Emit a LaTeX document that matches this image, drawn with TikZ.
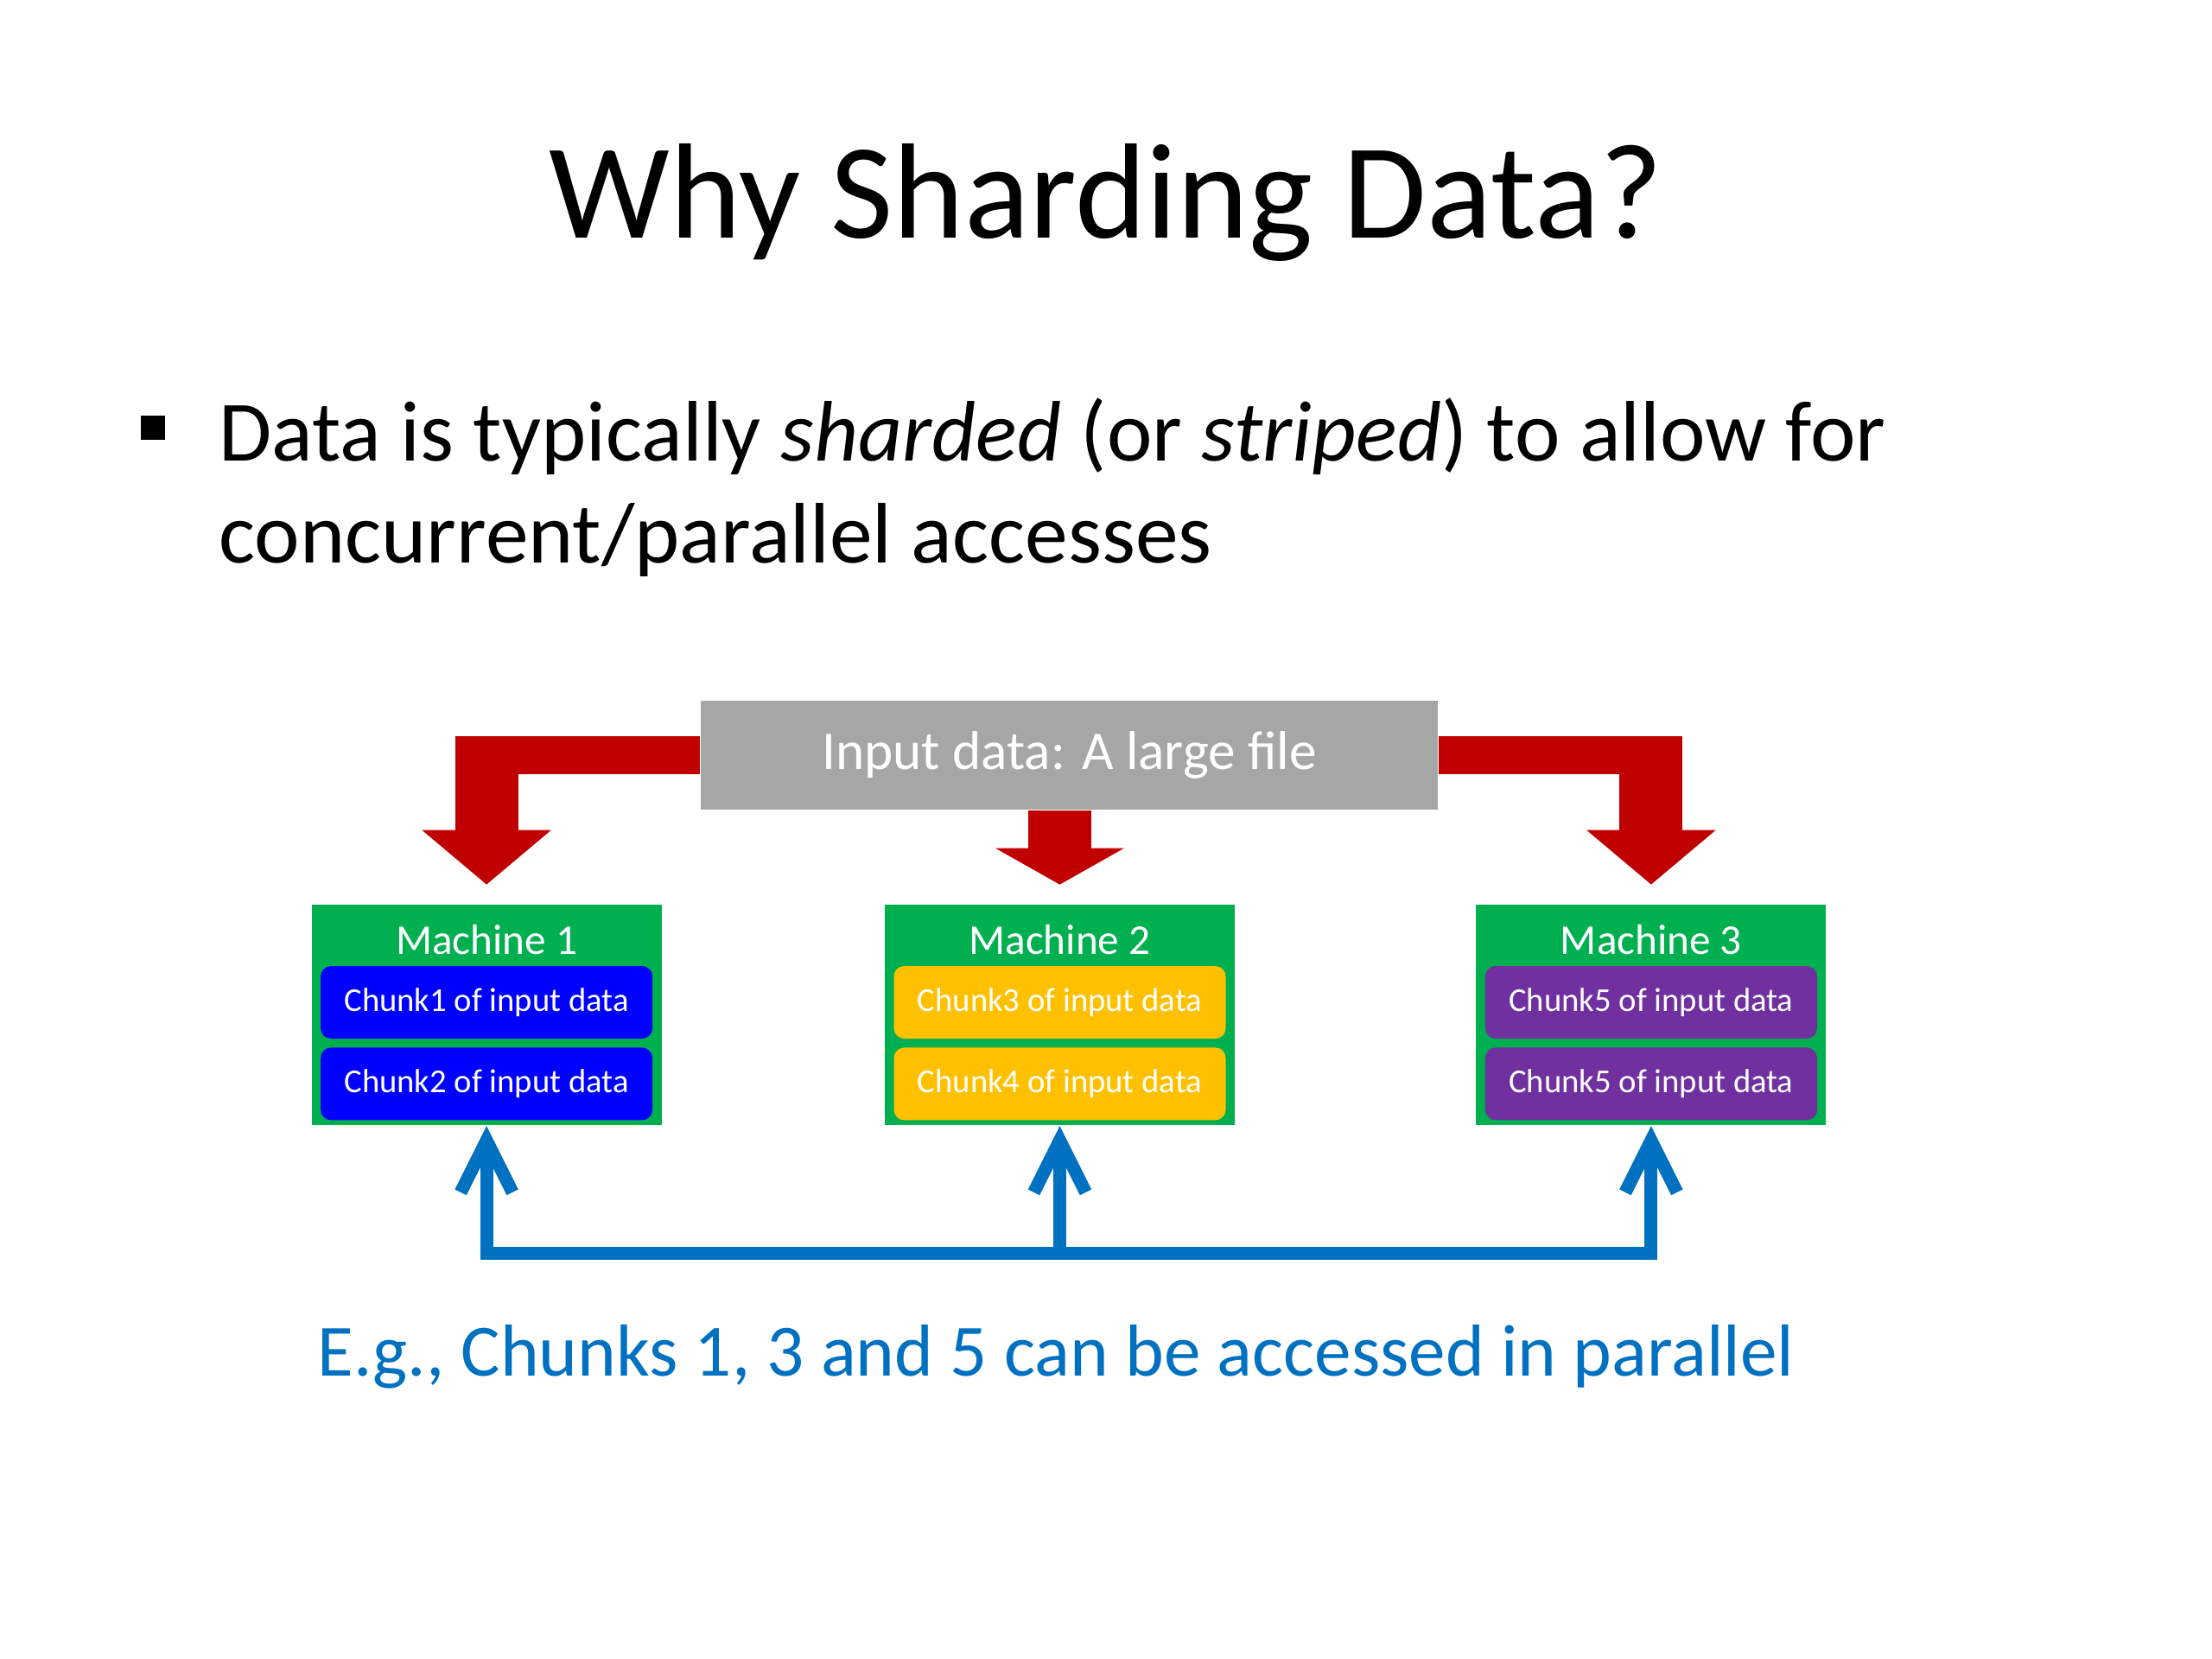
\documentclass[tikz,border=0pt]{standalone}
\usepackage{fontspec}
\setmainfont{Carlito}
\usetikzlibrary{arrows.meta, positioning, calc}

\definecolor{feedred}{HTML}{C00000}
\definecolor{filegray}{HTML}{A6A6A6}
\definecolor{machgreen}{HTML}{00B050}
\definecolor{chunkblue}{HTML}{0000FF}
\definecolor{chunkyellow}{HTML}{FFC000}
\definecolor{chunkpurple}{HTML}{7030A0}
\definecolor{accessblue}{HTML}{0070C0}

\begin{document}
\begin{tikzpicture}[
    node distance=1cm and 2.6cm,
    machine/.style={rectangle, fill=machgreen, minimum width=4.05cm, minimum height=2.55cm, inner sep=0pt},
    mtitle/.style={anchor=base, text=white, font=\fontsize{14}{16}\selectfont},
    chunk/.style={rectangle, rounded corners=0.12cm, minimum width=3.84cm, minimum height=0.84cm, inner sep=0pt, text=white, font=\fontsize{11}{13}\selectfont},
    feedbar/.style={draw=feedred, line width=0.44cm},
    feedshaft/.style={draw=feedred, line width=0.73cm, -{Triangle[length=0.63cm, width=1.46cm]}},
    access/.style={draw=accessblue, line width=0.15cm, -{Straight Barb[length=0.6cm, width=0.6cm]}}
  ]
  \useasboundingbox (0,0) rectangle (25.6,-19.2);

  % ============ HEADING ============
  \node[font=\fontsize{44.7}{50}\selectfont, anchor=base] (title) at (12.80,-2.76) {Why Sharding Data?};

  % Bullet point
  \node[fill=black, minimum size=0.28cm, inner sep=0pt] (dot) at (1.77,-4.955) {};
  \node[anchor=base west, align=left, inner sep=0pt, font=\fontsize{28.3}{33.3}\selectfont] (point) at (2.53,-6.51) {Data is typically \textit{sharded} (or \textit{striped}) to allow for\\concurrent/parallel accesses};

  % ============ INPUT FILE ============
  \node[fill=filegray, minimum width=8.53cm, minimum height=1.26cm, text=white, font=\fontsize{18}{20}\selectfont] (input) at (12.375,-8.74) {Input data: A large file};

  % ============ MACHINES ============
  \node[machine, below=1.09cm of input, xshift=-0.11cm] (m2) {};
  \node[machine, left=2.57cm of m2] (m1) {};
  \node[machine, right=2.78cm of m2] (m3) {};

  \node[mtitle] (m1t) at ([yshift=-0.58cm]m1.north) {Machine 1};
  \node[mtitle] (m2t) at ([yshift=-0.58cm]m2.north) {Machine 2};
  \node[mtitle] (m3t) at ([yshift=-0.58cm]m3.north) {Machine 3};

  % Chunks
  \node[chunk, fill=chunkblue, above=0.06cm of m1.south] (c2) {Chunk2 of input data};
  \node[chunk, fill=chunkblue, above=0.09cm of c2] (c1) {Chunk1 of input data};
  \node[chunk, fill=chunkyellow, above=0.06cm of m2.south] (c4) {Chunk4 of input data};
  \node[chunk, fill=chunkyellow, above=0.09cm of c4] (c3) {Chunk3 of input data};
  \node[chunk, fill=chunkpurple, above=0.06cm of m3.south] (c6) {Chunk5 of input data};
  \node[chunk, fill=chunkpurple, above=0.09cm of c6] (c5) {Chunk5 of input data};

  % ============ SHARDING ARROWS ============
  \draw[feedbar] (input.west) -- (input.west -| m1.north);
  \draw[feedshaft] ([yshift=0.22cm]input.west -| m1.north) -- ([yshift=0.23cm]m1.north);
  \draw[feedshaft, -{Triangle[length=0.42cm, width=1.47cm]}] (input.south -| m2.north) -- ([yshift=0.23cm]m2.north);
  \draw[feedbar] (input.east) -- (input.east -| m3.north);
  \draw[feedshaft] ([yshift=0.22cm]input.east -| m3.north) -- ([yshift=0.23cm]m3.north);

  % ============ PARALLEL ACCESS ============
  \coordinate (bus) at ([yshift=-1.47cm]m2.south);
  \draw[access] (bus) -| (m1);
  \draw[access] (bus) -- (m2);
  \draw[access] (bus) -| (m3);

  \node[text=accessblue, font=\fontsize{24.25}{28}\selectfont, anchor=base] (note) at (12.22,-15.92) {E.g., Chunks 1, 3 and 5 can be accessed in parallel};

\end{tikzpicture}
\end{document}
